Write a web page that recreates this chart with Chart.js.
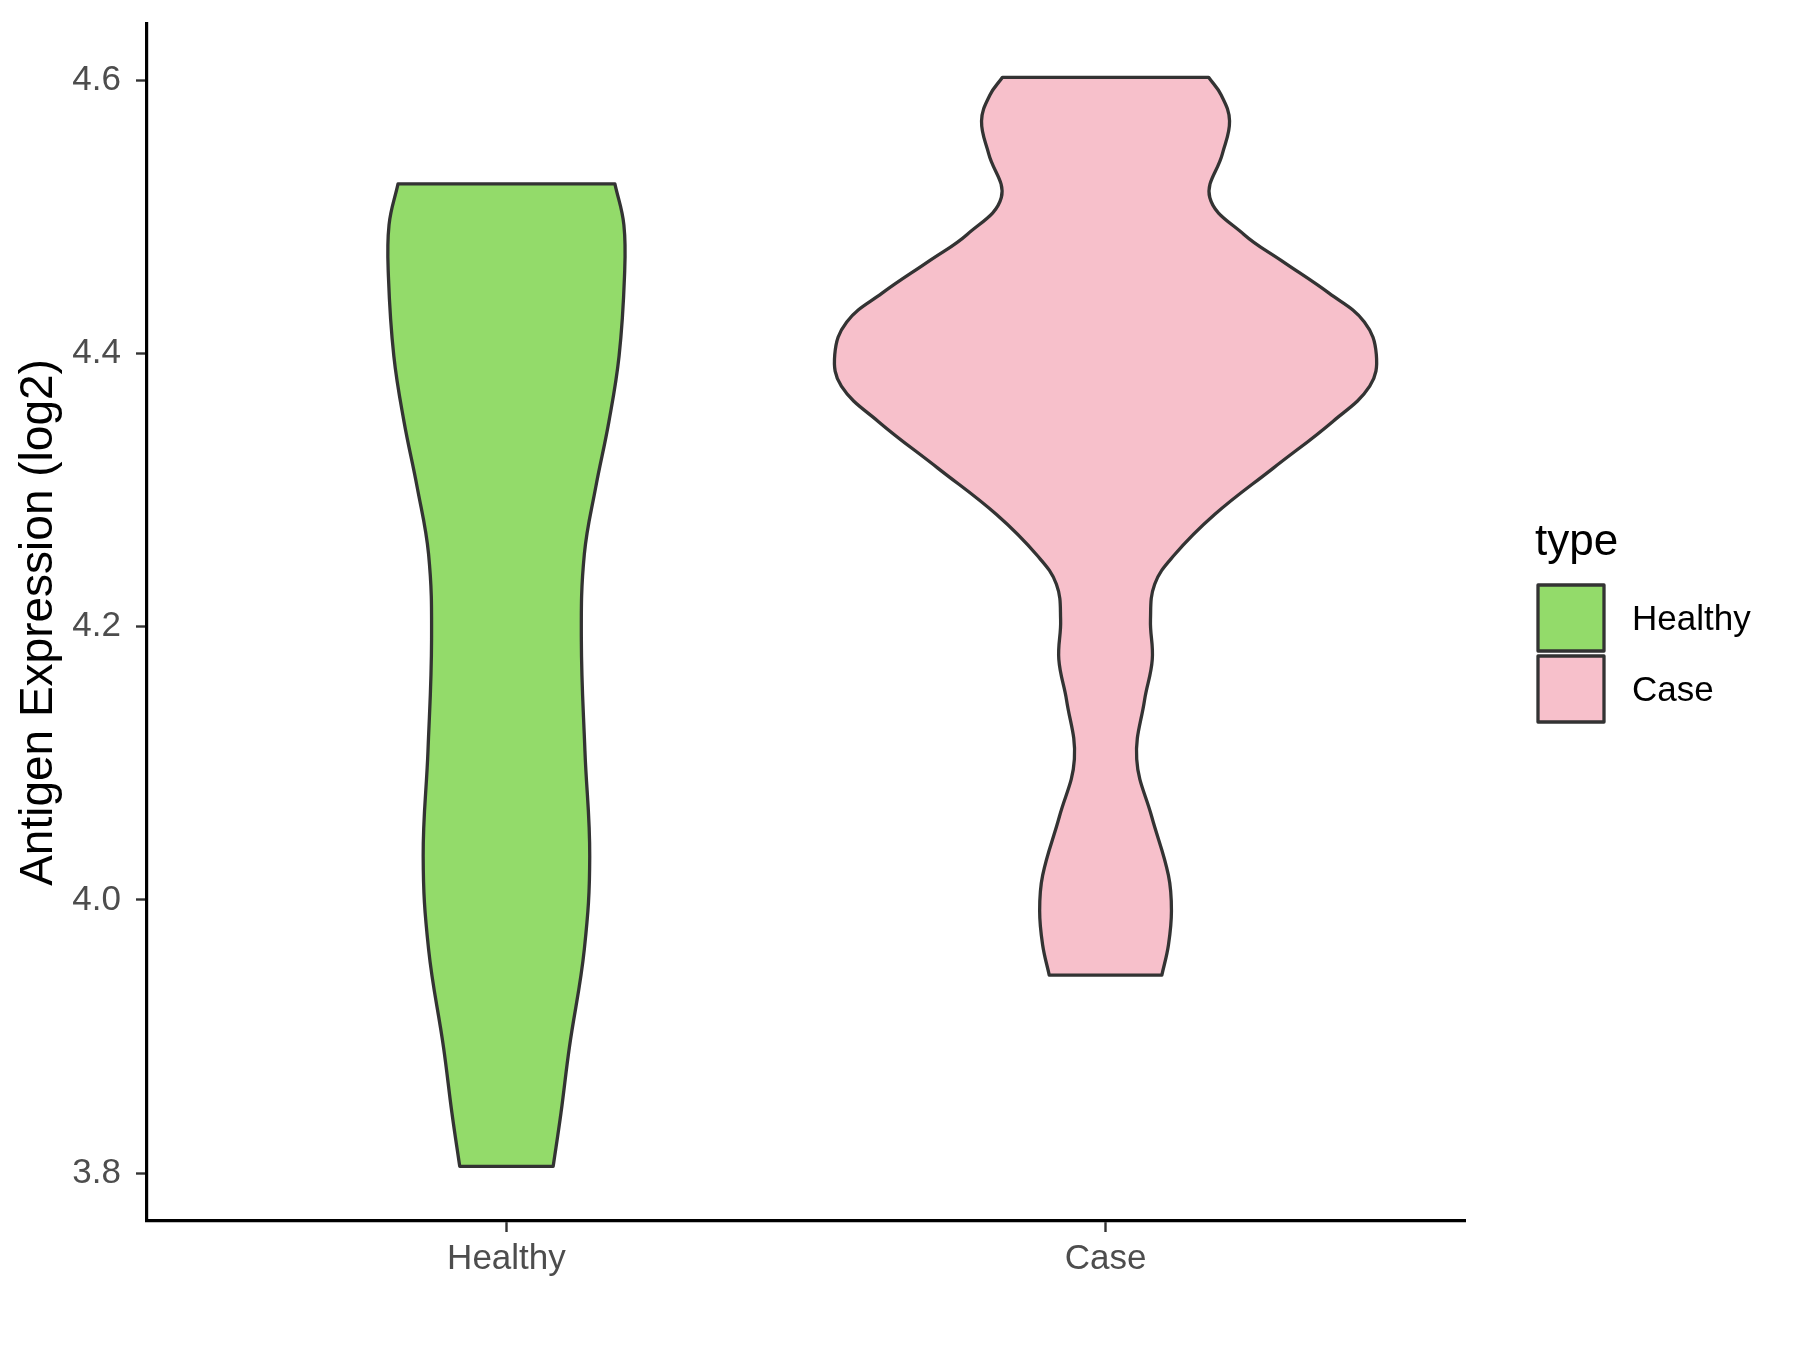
<!DOCTYPE html>
<html>
<head>
<meta charset="utf-8">
<title>Antigen expression violin</title>
<script src="https://cdn.jsdelivr.net/npm/chart.js@4.4.0/dist/chart.umd.min.js"></script>
<style>
  html, body { margin: 0; padding: 0; background: #fff; }
  #wrap { width: 1800px; height: 1350px; position: relative; }
</style>
</head>
<body>
<div id="wrap"><canvas id="chart"></canvas></div>
<script>
const categories = ['Healthy', 'Case'];

// violin outlines: expression level and half width (in category units)
const healthyY    = [3.805, 3.844, 3.892, 3.964, 4.032, 4.109, 4.191, 4.253, 4.302, 4.350, 4.398, 4.456, 4.494, 4.524];
const healthyHalf = [0.078, 0.091, 0.105, 0.130, 0.139, 0.131, 0.125, 0.130, 0.149, 0.171, 0.188, 0.197, 0.196, 0.181];

const caseY    = [3.945, 3.967, 3.992, 4.018, 4.061, 4.103, 4.146, 4.176, 4.205, 4.231, 4.252, 4.282, 4.316,
                  4.350, 4.376, 4.399, 4.423, 4.444, 4.468, 4.487, 4.514, 4.546, 4.570, 4.589, 4.602];
const caseHalf = [0.094, 0.105, 0.110, 0.105, 0.077, 0.052, 0.065, 0.078, 0.075, 0.082, 0.114, 0.182, 0.280,
                  0.379, 0.441, 0.452, 0.432, 0.373, 0.293, 0.231, 0.174, 0.195, 0.207, 0.193, 0.172];

const yTicks = [3.8, 4.0, 4.2, 4.4, 4.6];
const yTitle = 'Antigen Expression (log2)';
const legendTitle = 'type';
const fillColors = ['#93DB6A', '#F7C0CB'];
const outline = '#333333';
const fontFamily = '"Liberation Sans", Arial, Helvetica, sans-serif';

function violinOutline(center, ys, halves) {
    const right = ys.map((y, i) => ({ x: center + halves[i], y }));
    const left = ys.map((y, i) => ({ x: center - halves[i], y })).reverse();
    // every corner is doubled so the spline keeps the flat ends straight
    return [...right, { ...right[right.length - 1] }, { ...left[0] }, ...left,
            { ...left[left.length - 1] }, { ...right[0] }];
}

const legendPlugin = {
    id: 'typeLegend',
    afterDraw(chart) {
        const ctx = chart.ctx;
        ctx.save();
        ctx.textBaseline = 'alphabetic';
        ctx.textAlign = 'left';
        ctx.fillStyle = '#000';
        ctx.font = `44px ${fontFamily}`;
        ctx.fillText(legendTitle, 1535, 555);
        chart.data.datasets.forEach((ds, i) => {
            const top = 585 + i * 71;
            ctx.fillStyle = ds.backgroundColor;
            ctx.fillRect(1538, top, 66, 66);
            ctx.lineWidth = 3.3;
            ctx.strokeStyle = ds.borderColor;
            ctx.lineJoin = 'round';
            ctx.strokeRect(1538, top, 66, 66);
            ctx.fillStyle = '#000';
            ctx.font = `35px ${fontFamily}`;
            ctx.fillText(ds.label, 1632, top + 45);
        });
        ctx.restore();
    }
};

const datasets = [
    { label: categories[0], data: violinOutline(1, healthyY, healthyHalf), backgroundColor: fillColors[0] },
    { label: categories[1], data: violinOutline(2, caseY, caseHalf), backgroundColor: fillColors[1] }
].map(ds => ({
    ...ds,
    borderColor: outline,
    borderWidth: 3.3,
    borderJoinStyle: 'round',
    borderCapStyle: 'round',
    showLine: true,
    fill: 'shape',
    tension: 0.4,
    pointRadius: 0,
    pointHoverRadius: 0
}));

new Chart(document.getElementById('chart'), {
    type: 'scatter',
    data: { datasets },
    options: {
        responsive: true,
        maintainAspectRatio: false,
        animation: false,
        events: [],
        layout: { padding: { top: 24, right: 335, bottom: 0, left: 0 } },
        plugins: {
            legend: { display: false },
            tooltip: { enabled: false }
        },
        scales: {
            x: {
                type: 'linear',
                min: 0.4,
                max: 2.6,
                afterFit: s => { s.height = 129; s.paddingLeft = 0; s.paddingRight = 0; },
                afterBuildTicks: s => { s.ticks = categories.map((c, i) => ({ value: i + 1 })); },
                ticks: {
                    callback: v => categories[Math.round(v) - 1],
                    color: '#4D4D4D',
                    font: { family: fontFamily, size: 35 },
                    padding: 6,
                    maxRotation: 0
                },
                grid: { display: true, drawOnChartArea: false, drawTicks: true, tickLength: 11, tickWidth: 2.4, tickColor: '#333' },
                border: { display: true, color: '#000', width: 3.2 }
            },
            y: {
                type: 'linear',
                min: 3.765,
                max: 4.641,
                afterFit: s => { s.width = 147; s.paddingTop = 0; s.paddingBottom = 0; },
                afterBuildTicks: s => { s.ticks = yTicks.map(v => ({ value: v })); },
                ticks: {
                    callback: v => v.toFixed(1),
                    color: '#4D4D4D',
                    font: { family: fontFamily, size: 35 },
                    padding: 15
                },
                grid: { display: true, drawOnChartArea: false, drawTicks: true, tickLength: 11, tickWidth: 2.4, tickColor: '#333' },
                border: { display: true, color: '#000', width: 3.2 },
                title: {
                    display: true,
                    text: yTitle,
                    color: '#000',
                    font: { family: fontFamily, size: 46 },
                    padding: { top: 12, bottom: 0 }
                }
            }
        }
    },
    plugins: [legendPlugin]
});
</script>
</body>
</html>
